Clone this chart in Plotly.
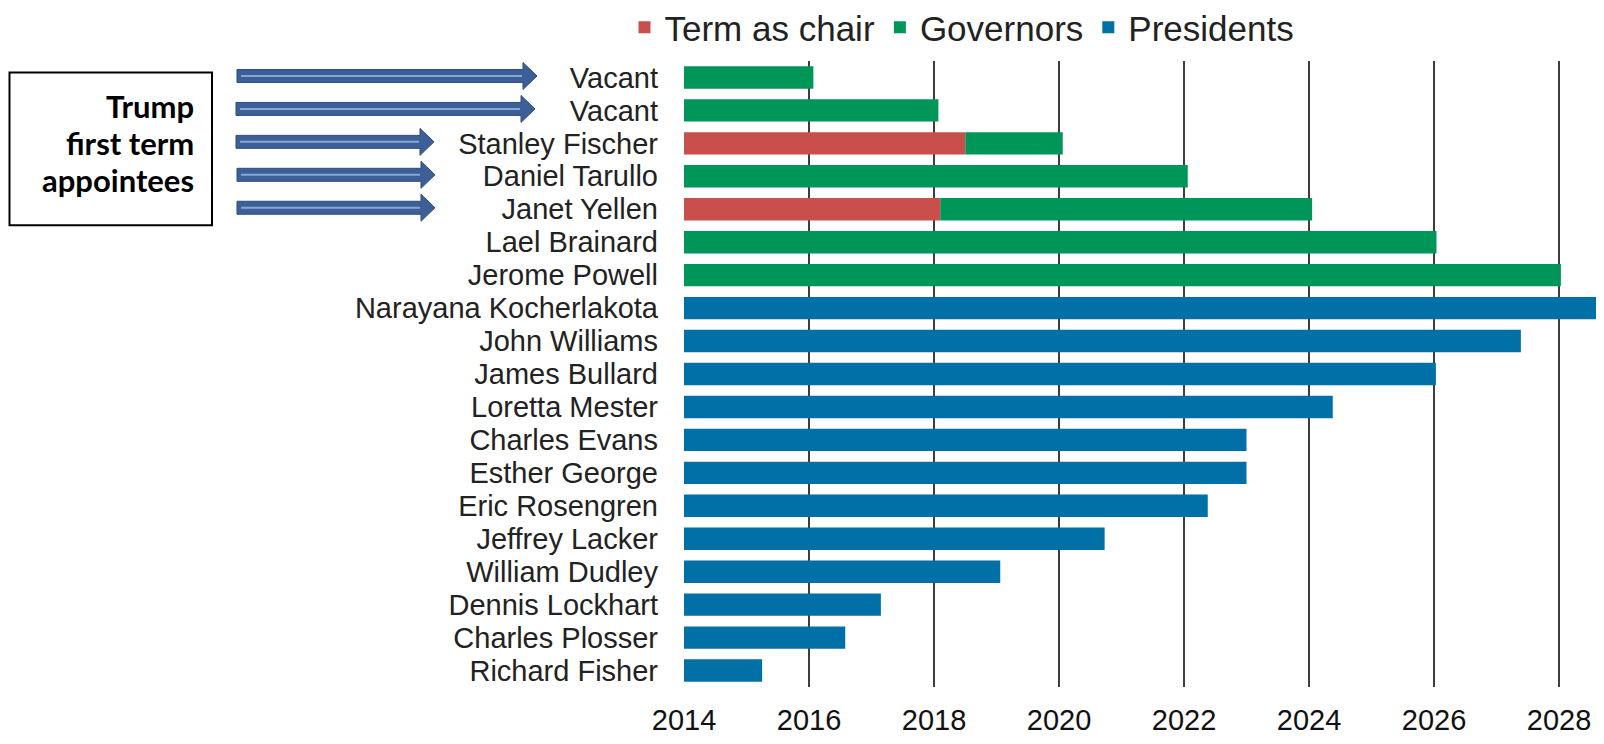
import plotly.graph_objects as go

# ---------------- data ----------------
names = ["Vacant", "Vacant", "Stanley Fischer", "Daniel Tarullo", "Janet Yellen",
         "Lael Brainard", "Jerome Powell", "Narayana Kocherlakota", "John Williams",
         "James Bullard", "Loretta Mester", "Charles Evans", "Esther George",
         "Eric Rosengren", "Jeffrey Lacker", "William Dudley", "Dennis Lockhart",
         "Charles Plosser", "Richard Fisher"]
start_year = 2014

chair_names = ["Stanley Fischer", "Janet Yellen"]
chair_end = [2018.50, 2018.10]

governor_rows = [0, 1, 2, 3, 4, 5, 6]
governor_end = [2016.07, 2018.07, 2020.06, 2022.06, 2024.05, 2026.04, 2028.03]

president_rows = [7, 8, 9, 10, 11, 12, 13, 14, 15, 16, 17, 18]
president_end = [2029.0, 2027.39, 2026.03, 2024.38, 2023.00, 2023.00, 2022.38,
                 2020.73, 2019.06, 2017.15, 2016.58, 2015.25]

tick_years = [2014, 2016, 2018, 2020, 2022, 2024, 2026, 2028]
x_max = 2028.72

box_lines = ["Trump", "first term", "appointees"]
arrow_rows = [0, 1, 2, 3, 4]

# ---------------- colours / fonts ----------------
RED = "#C84F4B"
GREEN = "#00965A"
BLUE = "#0070A6"
LABEL_FONT = "Liberation Sans, Arial, sans-serif"

# page has an 8px body margin: figure origin sits at (8, 8) on the page
OFF = 8
W, H = 1604 - OFF, 744 - 2 * OFF
ML, MR = 684 - OFF, 0
MT = 60.5 - OFF
MB = H - (687.5 - OFF)
PW, PH = W - ML - MR, H - MT - MB


def px_to_paper_x(px):  # px in page coordinates
    return (px - OFF - ML) / PW


def px_to_paper_y(py):
    return 1 - (py - OFF - MT) / PH


fig = go.Figure()

chair_rows = [names.index(n) for n in chair_names]
fig.add_trace(go.Bar(
    name="Term as chair", orientation="h", y=chair_rows,
    base=[start_year] * len(chair_rows),
    x=[e - start_year for e in chair_end],
    marker=dict(color=RED, line=dict(width=0)), width=0.68,
))

gov_base = []
for r in governor_rows:
    if r in chair_rows:
        gov_base.append(chair_end[chair_rows.index(r)])
    else:
        gov_base.append(start_year)
fig.add_trace(go.Bar(
    name="Governors", orientation="h", y=governor_rows, base=gov_base,
    x=[e - b for e, b in zip(governor_end, gov_base)],
    marker=dict(color=GREEN, line=dict(width=0)), width=0.68,
))

fig.add_trace(go.Bar(
    name="Presidents", orientation="h", y=president_rows,
    base=[start_year] * len(president_rows),
    x=[e - start_year for e in president_end],
    marker=dict(color=BLUE, line=dict(width=0)), width=0.68,
))

# ---------------- arrows (decoration) ----------------
arrow_left = [237, 236, 236, 237, 237]
arrow_tip = [537, 535, 434, 435, 435]
shapes = []
row_h = PH / len(names)
for r, x0, xt in zip(arrow_rows, arrow_left, arrow_tip):
    cy = 60.5 + (r + 0.5) * row_h - 1.5
    head_len, shaft_h, head_h = 14, 6.5, 13.5
    xb = xt - head_len
    pts = [(x0, cy - shaft_h), (xb, cy - shaft_h), (xb, cy - head_h), (xt, cy),
           (xb, cy + head_h), (xb, cy + shaft_h), (x0, cy + shaft_h)]
    path = "M " + " L ".join(f"{px_to_paper_x(x):.5f},{px_to_paper_y(y):.5f}" for x, y in pts) + " Z"
    shapes.append(dict(type="path", xref="paper", yref="paper", path=path,
                       fillcolor="#3D5F97", line=dict(color="#2F4C7E", width=1),
                       layer="above"))
    shapes.append(dict(type="line", xref="paper", yref="paper",
                       x0=px_to_paper_x(x0 + 4), x1=px_to_paper_x(xb - 1),
                       y0=px_to_paper_y(cy), y1=px_to_paper_y(cy),
                       line=dict(color="#86A6D4", width=2), layer="above"))

shapes.append(dict(type="rect", xref="paper", yref="paper",
                   x0=px_to_paper_x(9.5), x1=px_to_paper_x(212),
                   y0=px_to_paper_y(72), y1=px_to_paper_y(225),
                   line=dict(color="black", width=2), fillcolor="rgba(0,0,0,0)"))

annotations = []
for line, cy in zip(box_lines, [106, 143, 180]):
    annotations.append(dict(
        text=f"<b>{line}</b>", xref="paper", yref="paper",
        x=px_to_paper_x(196), y=px_to_paper_y(cy), xanchor="right", yanchor="middle",
        showarrow=False, font=dict(family="Lato, Carlito, sans-serif", size=31, color="black"),
    ))

fig.update_layout(
    width=W, height=H,
    margin=dict(l=ML, r=MR, t=MT, b=MB, pad=0, autoexpand=False),
    paper_bgcolor="white", plot_bgcolor="white",
    barmode="overlay",
    showlegend=True,
    legend=dict(orientation="h", x=px_to_paper_x(962), xanchor="center",
                y=px_to_paper_y(27), yanchor="middle",
                font=dict(family=LABEL_FONT, size=35, color="#222"),
                itemsizing="constant", traceorder="normal",
                bgcolor="rgba(0,0,0,0)"),
    xaxis=dict(range=[start_year, x_max], tickvals=tick_years,
               ticktext=[str(t) for t in tick_years],
               showgrid=True, gridcolor="#3d3d3d", gridwidth=2,
               zeroline=False, showline=False, ticks="", automargin=False,
               tickfont=dict(family=LABEL_FONT, size=29, color="#111"),
               ticklabelstandoff=13, fixedrange=True),
    yaxis=dict(range=[len(names) - 0.5, -0.5], tickvals=list(range(len(names))),
               ticktext=names, showgrid=False, zeroline=False, showline=False,
               ticks="", automargin=False,
               tickfont=dict(family=LABEL_FONT, size=29, color="#222"),
               ticklabelstandoff=25, fixedrange=True),
    shapes=shapes,
    annotations=annotations,
)

fig.write_html("out.html")
